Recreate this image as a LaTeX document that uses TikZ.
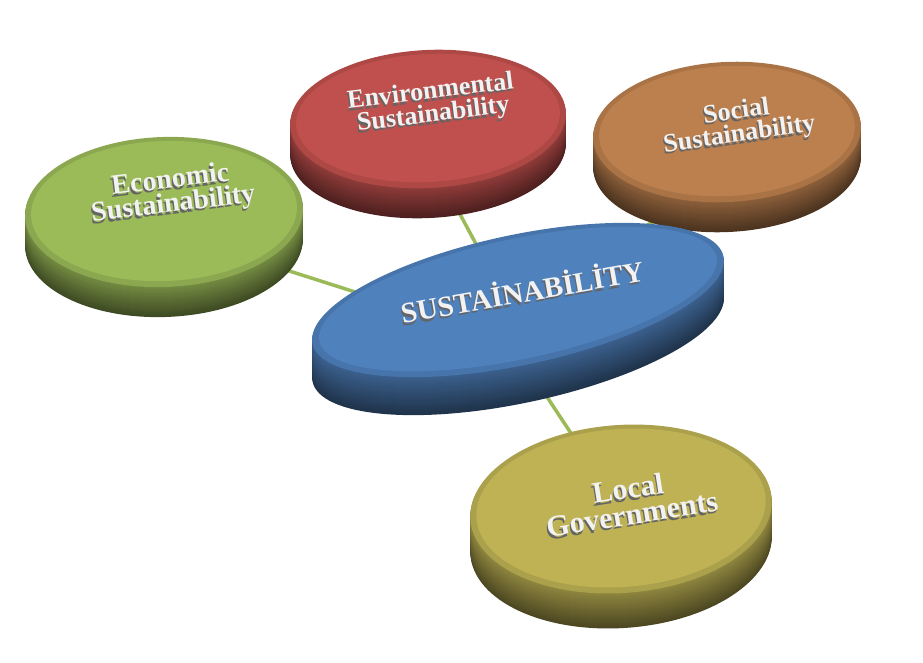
\documentclass[tikz,border=0pt]{standalone}
\usepackage{fontspec}
\setmainfont{Liberation Serif}
\usetikzlibrary{shapes.geometric}

\pgfdeclarelayer{background}
\pgfsetlayers{background,main}

\definecolor{ecogreen}{RGB}{155,187,89}
\definecolor{envred}{RGB}{192,80,77}
\definecolor{socbrown}{RGB}{188,128,78}
\definecolor{susblue}{RGB}{79,129,189}
\definecolor{locolive}{RGB}{190,178,84}
\definecolor{linkgreen}{RGB}{155,187,89}
\definecolor{embface}{RGB}{242,242,242}
\definecolor{embshadow}{RGB}{100,100,100}

% side of a disc: stacked ellipses, darker towards the bottom
\newcommand{\discside}[7]{% x, y, x radius, y radius, angle, depth, colour
  \foreach \d in {#6,...,1}{%
    \pgfmathtruncatemacro{\shd}{40+35*(#6-\d)/#6}%
    \fill[#7!\shd!black, rotate around={#5:(#1,#2+\d)}] (#1,#2+\d) ellipse [x radius=#3, y radius=#4];
  }%
}

% white text with a grey extrusion
\newcommand{\embossed}[5][disctxt={26}{23}]{% style, name, position, angle, text
  \node[#1, text=embshadow, rotate=#4, xshift=-1.3pt, yshift=-2.4pt] (#2-sh) at #3 {#5};
  \node[#1, text=embface, rotate=#4] (#2) at #3 {#5};
}

\begin{document}
\begin{tikzpicture}[x=1pt, y=-1pt,
    discface/.style={ellipse, inner sep=0pt, outer sep=0pt, fill=#1},
    disctxt/.style n args={2}{font=\bfseries\fontsize{#1}{#2}\selectfont, align=center, inner sep=0pt},
    link/.style={draw=linkgreen, line width=3.5pt},
    ]
    \useasboundingbox (0,0) rectangle (923,662);

    % environmental
    \discside{428}{119}{138}{69}{3}{30}{envred}
    \node[discface=envred!90!black, minimum width=276, minimum height=138, rotate=3] (env) at (428,119) {};
    \node[discface=envred, minimum width=264, minimum height=128, rotate=3] (env-in) at (428,118) {};

    % social
    \discside{727}{132}{134}{70}{3}{30}{socbrown}
    \node[discface=socbrown!90!black, minimum width=268, minimum height=140, rotate=3] (soc) at (727,132) {};
    \node[discface=socbrown, minimum width=256, minimum height=130, rotate=3] (soc-in) at (727,131) {};

    % economic
    \discside{164}{212}{139}{75}{2}{30}{ecogreen}
    \node[discface=ecogreen!90!black, minimum width=278, minimum height=150, rotate=2] (econ) at (164,212) {};
    \node[discface=ecogreen, minimum width=266, minimum height=140, rotate=2] (econ-in) at (164,211) {};

    % sustainability
    \discside{518}{300}{210}{65}{12}{38}{susblue}
    \node[discface=susblue!90!black, minimum width=420, minimum height=130, rotate=12] (sust) at (518,300) {};
    \node[discface=susblue, minimum width=406, minimum height=120, rotate=12] (sust-in) at (518,299) {};

    % local governments
    \discside{621}{509}{151}{84}{4}{35}{locolive}
    \node[discface=locolive!90!black, minimum width=302, minimum height=168, rotate=4] (loc) at (621,509) {};
    \node[discface=locolive, minimum width=290, minimum height=158, rotate=4] (loc-in) at (621,508) {};

    \embossed{env-txt}{(432,104)}{7}{Environmental\\Sustainability}
    \embossed{soc-txt}{(738,124)}{8}{Social\\Sustainability}
    \embossed[disctxt={28}{24}]{econ-txt}{(172,193)}{7}{Economic\\Sustainability}
    \embossed[disctxt={29}{29}]{sust-txt}{(522,290)}{10}{SUSTAİNABİLİTY}
    \embossed[disctxt={30}{26}]{loc-txt}{(630,501)}{9}{Local\\Governments}

    \begin{pgfonlayer}{background}
        \draw[link] ([yshift=-44pt]sust.center) -- ([yshift=-19pt]econ.center);
        \draw[link] ([xshift=-12pt]sust.center) -- ([xshift=-19pt]env.center);
        \draw[link] (sust.center) -- ([yshift=-47pt]soc.center);
        \draw[link] ([xshift=-35pt]sust.center) -- (loc.center);
    \end{pgfonlayer}
\end{tikzpicture}
\end{document}
